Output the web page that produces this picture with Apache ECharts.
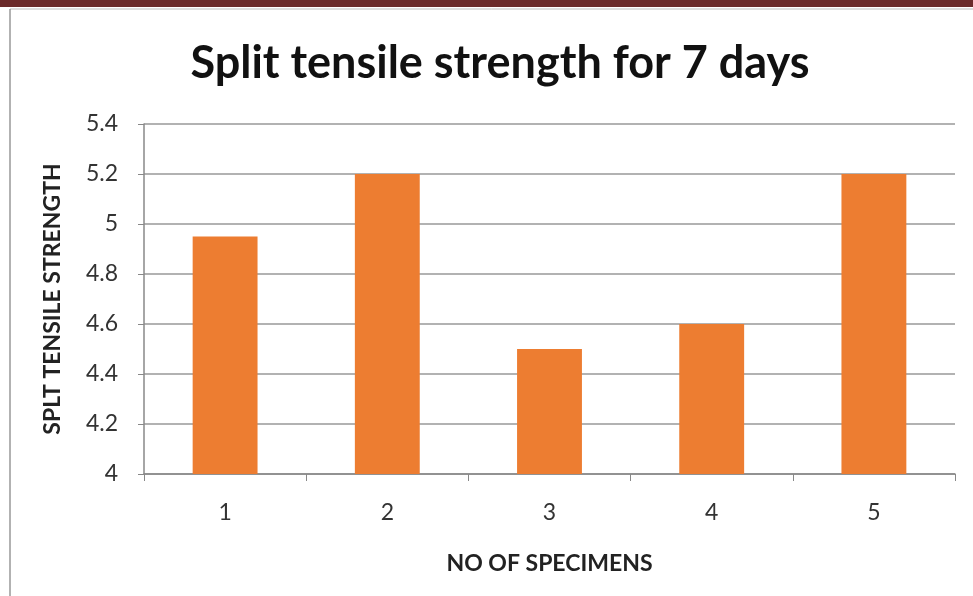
<!DOCTYPE html>
<html>
<head>
<meta charset="utf-8">
<script src="https://cdn.jsdelivr.net/npm/echarts@6/dist/echarts.min.js"></script>
<style>
  html, body { margin: 0; padding: 0; background: #fff; }
  #chart { width: 973px; height: 596px; }
</style>
</head>
<body>
<div id="chart"></div>
<script>
// data
var specimens = ['1', '2', '3', '4', '5']
var strength = [4.95, 5.2, 4.5, 4.6, 5.2]

var myChart = echarts.init(document.getElementById('chart'))
myChart.setOption({
  backgroundColor: '#fff',
  title: {
    text: 'Split tensile strength for 7 days',
    left: 495,
    top: 36,
    textAlign: 'center',
    textStyle: { fontFamily: 'Lato', fontWeight: 'bold', fontSize: 45, color: '#111' }
  },
  graphic: [
    { type: 'rect', shape: { x: 0, y: 0, width: 973, height: 7 }, style: { fill: '#6b2a2a' } },
    { type: 'line', shape: { x1: 10, y1: 9, x2: 973, y2: 9 }, style: { stroke: '#bbb', lineWidth: 1 } },
    { type: 'line', shape: { x1: 10, y1: 9, x2: 10, y2: 596 }, style: { stroke: '#999', lineWidth: 1.5 } }
  ],
  grid: { left: 144, right: 18, top: 124, bottom: 122 },
  xAxis: {
    type: 'category',
    data: specimens,
    name: 'NO OF SPECIMENS',
    nameLocation: 'middle',
    nameGap: 78,
    nameTextStyle: { fontFamily: 'Lato', fontWeight: 'bold', fontSize: 23, color: '#222' },
    axisLine: { lineStyle: { color: '#888', width: 1.5 } },
    axisTick: { show: true, length: 7, lineStyle: { color: '#888' } },
    axisLabel: { fontFamily: 'Lato', fontSize: 23, color: '#333', margin: 27 }
  },
  yAxis: {
    type: 'value',
    min: 4,
    max: 5.4,
    interval: 0.2,
    name: 'SPLT TENSILE STRENGTH',
    nameLocation: 'middle',
    nameGap: 80,
    nameTextStyle: { fontFamily: 'Lato', fontWeight: 'bold', fontSize: 23, color: '#222' },
    axisLine: { show: true, lineStyle: { color: '#888', width: 1.5 } },
    axisTick: { show: true, length: 6, lineStyle: { color: '#888' } },
    axisLabel: { fontFamily: 'Lato', fontSize: 23, color: '#333', margin: 26 },
    splitLine: { lineStyle: { color: '#999', width: 1.5 } }
  },
  series: [{
    type: 'bar',
    data: strength,
    barWidth: '40%',
    itemStyle: { color: '#ed7d31' }
  }]
})
</script>
</body>
</html>
